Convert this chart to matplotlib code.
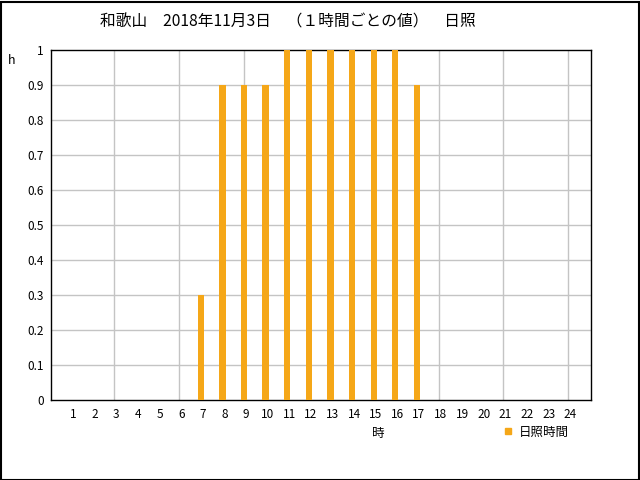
import matplotlib
matplotlib.use("Agg")
import matplotlib.pyplot as plt
import matplotlib.transforms as mtransforms
from matplotlib.patches import Rectangle

plt.rcParams['font.family'] = ['Noto Sans CJK JP', 'DejaVu Sans']

hours = list(range(1, 25))
sunshine = [0, 0, 0, 0, 0, 0, 0.3, 0.9, 0.9, 0.9, 1, 1, 1, 1, 1, 1, 0.9, 0, 0, 0, 0, 0, 0, 0]
title = "和歌山　2018年11月3日　（１時間ごとの値）　日照"
series_name = "日照時間"
color = "#f5a718"

fig = plt.figure(figsize=(6.4, 4.8), dpi=100)
ax = fig.add_axes([50.5/640, 1 - 400/480, 540.5/640, 350/480])

ax.bar(hours, sunshine, width=0.29, color=color, zorder=3)
ax.set_xlim(0.05, 25.05)
ax.set_ylim(0, 1)
ax.set_yticks([i/10 for i in range(11)])
ax.set_yticklabels(["0"] + [f"{i/10:.1f}" for i in range(1, 10)] + ["1"], fontsize=8.5)
ax.set_xticks(hours)
ax.set_xticklabels([str(h) for h in hours], fontsize=8.5)
ax.tick_params(length=0, pad=6)
ax.tick_params(axis='y', pad=5)
offset = mtransforms.ScaledTranslation(2/100, 0, fig.dpi_scale_trans)
for lbl in ax.get_xticklabels():
    lbl.set_transform(lbl.get_transform() + offset)
for y in [i/10 for i in range(1, 10)]:
    ax.axhline(y, color="#c4c4c4", lw=1, zorder=1)
for x in range(3, 25, 3):
    ax.axvline(x, color="#c4c4c4", lw=1, zorder=1)
for s in ax.spines.values():
    s.set_color("black")
    s.set_linewidth(1)

fig.text(288/640, 1 - 22/480, title, ha="center", va="center", fontsize=11.3)
fig.text(12/640, 1 - 61/480, "h", ha="center", va="center", fontsize=9)
fig.text(378/640, 1 - 433/480, "時", ha="center", va="center", fontsize=9)
fig.patches.append(Rectangle((505/640, 1 - 434/480), 6/640, 6/480, transform=fig.transFigure, color=color, figure=fig))
fig.text(519/640, 1 - 432/480, series_name, ha="left", va="center", fontsize=9)

fig.patches.append(Rectangle((0.5/640, 0.5/480), 638/640, 478/480, transform=fig.transFigure,
                             fill=False, edgecolor="black", lw=1.5, figure=fig))
fig.savefig("out.png", dpi=100)
